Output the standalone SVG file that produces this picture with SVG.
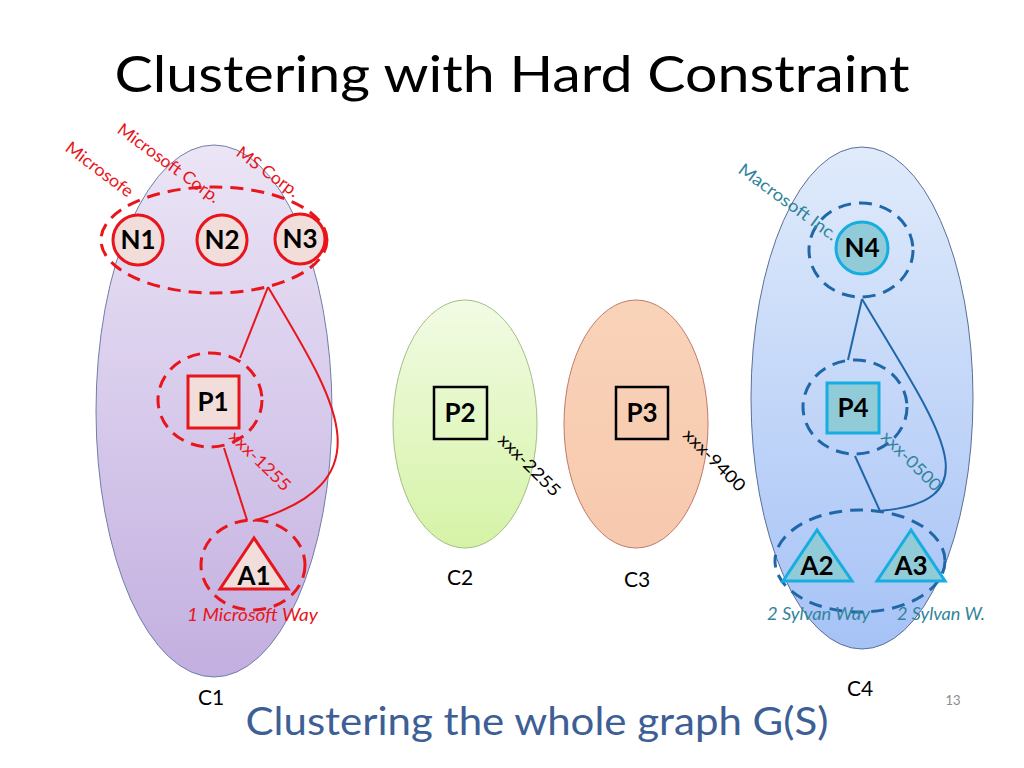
<svg xmlns="http://www.w3.org/2000/svg" width="1024" height="768" viewBox="0 0 1024 768">
<defs>
<linearGradient id="g1" x1="0" y1="0" x2="0" y2="1"><stop offset="0" stop-color="#ebe5f6"/><stop offset="1" stop-color="#c3afe0"/></linearGradient>
<linearGradient id="g2" x1="0" y1="0" x2="0" y2="1"><stop offset="0" stop-color="#f2fbe4"/><stop offset="1" stop-color="#d5f3a6"/></linearGradient>
<linearGradient id="g3" x1="0" y1="0" x2="0" y2="1"><stop offset="0" stop-color="#f9d3b8"/><stop offset="1" stop-color="#f7c9ae"/></linearGradient>
<linearGradient id="g4" x1="0" y1="0" x2="0" y2="1"><stop offset="0" stop-color="#e0ebfb"/><stop offset="1" stop-color="#a6c2f6"/></linearGradient>
<style>
text{font-family:Lato,"Open Sans","Liberation Sans",sans-serif}
.lbl{font-size:26px;font-weight:bold;fill:#000;text-anchor:middle}
.cl{font-size:21px;fill:#000;text-anchor:middle}
.rdash{fill:none;stroke:#e8161c;stroke-width:3;stroke-dasharray:13 8}
.bdash{fill:none;stroke:#1f67a8;stroke-width:3;stroke-dasharray:13 8}
.rnode{fill:#f1ddd9;stroke:#e8161c;stroke-width:3}
.bnode{fill:#92cbd8;stroke:#16aee0;stroke-width:3}
.pnode{fill:none;stroke:#000;stroke-width:2.5}
.rtxt{fill:#e8161c;font-size:17px}
.ttxt{fill:#31849b;font-size:17px}
.ktxt{fill:#000;font-size:17px}
</style>
</defs>
<rect width="1024" height="768" fill="#fff"/>
<text x="512" y="92" text-anchor="middle" font-size="50" textLength="795" lengthAdjust="spacingAndGlyphs" fill="#000">Clustering with Hard Constraint</text>

<g id="C1">
<ellipse cx="214" cy="411" rx="118" ry="266" fill="url(#g1)" stroke="#6f7fa8" stroke-width="1"/>
<text class="cl" x="211" y="705">C1</text>
</g>
<g id="C2">
<ellipse cx="465" cy="424" rx="72" ry="124" fill="url(#g2)" stroke="#a3be86" stroke-width="1"/>
<text class="cl" x="460" y="585">C2</text>
</g>
<g id="C3">
<ellipse cx="636" cy="424" rx="72" ry="124" fill="url(#g3)" stroke="#c07a6c" stroke-width="1"/>
<text class="cl" x="637" y="587">C3</text>
</g>
<g id="C4">
<ellipse cx="862" cy="398" rx="111" ry="251" fill="url(#g4)" stroke="#5b6f96" stroke-width="1"/>
<text class="cl" x="860" y="696">C4</text>
</g>

<g id="connectors" fill="none" stroke-width="2">
<line x1="268" y1="287" x2="240" y2="358" stroke="#e8161c"/>
<path d="M268,287 C335,400 390,480 253,521" stroke="#e8161c"/>
<line x1="224" y1="448" x2="247" y2="520" stroke="#e8161c"/>
<line x1="862" y1="299" x2="848" y2="360" stroke="#1f67a8"/>
<path d="M862,299 C940,430 995,500 880,511" stroke="#1f67a8"/>
<line x1="855" y1="456" x2="880" y2="511" stroke="#1f67a8"/>
</g>

<g id="Ngroup">
<ellipse class="rdash" cx="214" cy="240" rx="113" ry="53"/>
<text class="rtxt" transform="translate(64,150) rotate(37)" textLength="80" lengthAdjust="spacingAndGlyphs">Microsofe</text>
<text class="rtxt" transform="translate(116,132) rotate(36)" textLength="122" lengthAdjust="spacingAndGlyphs">Microsoft Corp.</text>
<text class="rtxt" transform="translate(235,155) rotate(36)" textLength="73" lengthAdjust="spacingAndGlyphs">MS Corp.</text>
</g>
<g id="N1"><circle class="rnode" cx="138" cy="240" r="25"/><text class="lbl" x="138" y="249">N1</text></g>
<g id="N2"><circle class="rnode" cx="222" cy="240" r="25"/><text class="lbl" x="222" y="249">N2</text></g>
<g id="N3"><circle class="rnode" cx="300" cy="239" r="25"/><text class="lbl" x="300" y="248">N3</text></g>

<g id="P1">
<ellipse class="rdash" cx="210" cy="400" rx="52" ry="47"/>
<rect class="rnode" x="188" y="376" width="51" height="52"/>
<text class="lbl" x="213" y="411">P1</text>
<text class="rtxt" transform="translate(228,438) rotate(44)" textLength="78" lengthAdjust="spacingAndGlyphs">xxx-1255</text>
</g>
<g id="A1">
<ellipse class="rdash" cx="253" cy="565" rx="52" ry="45"/>
<polygon class="rnode" points="254,538 220,589 288,589"/>
<text class="lbl" x="254" y="585">A1</text>
<text class="rtxt" x="187" y="621" font-style="italic" textLength="131" lengthAdjust="spacingAndGlyphs">1 Microsoft Way</text>
</g>

<g id="P2">
<rect class="pnode" x="434" y="387" width="53" height="52"/>
<text class="lbl" x="460" y="422">P2</text>
<text class="ktxt" transform="translate(497,441) rotate(45)" textLength="80" lengthAdjust="spacingAndGlyphs">xxx-2255</text>
</g>
<g id="P3">
<rect class="pnode" x="616" y="387" width="52" height="52"/>
<text class="lbl" x="642" y="422">P3</text>
<text class="ktxt" transform="translate(682,436) rotate(45)" textLength="80" lengthAdjust="spacingAndGlyphs">xxx-9400</text>
</g>

<g id="N4">
<ellipse class="bdash" cx="861" cy="250" rx="52" ry="47"/>
<circle class="bnode" cx="862" cy="248" r="26"/>
<text class="lbl" x="862" y="257">N4</text>
<text class="ttxt" transform="translate(737,172) rotate(36)" textLength="118" lengthAdjust="spacingAndGlyphs">Macrosoft Inc.</text>
</g>
<g id="P4">
<ellipse class="bdash" cx="855" cy="407" rx="52" ry="47"/>
<rect class="bnode" x="827" y="383" width="52" height="50"/>
<text class="lbl" x="853" y="417">P4</text>
<text class="ttxt" transform="translate(880,438) rotate(45)" textLength="77" lengthAdjust="spacingAndGlyphs">xxx-0500</text>
</g>
<g id="Agroup">
<ellipse class="bdash" cx="860" cy="561" rx="85" ry="51"/>
<text class="ttxt" x="767" y="620" font-style="italic" textLength="103" lengthAdjust="spacingAndGlyphs">2 Sylvan Way</text>
<text class="ttxt" x="897" y="620" font-style="italic" textLength="88" lengthAdjust="spacingAndGlyphs">2 Sylvan W.</text>
</g>
<g id="A2"><polygon class="bnode" points="817,530 783,581 852,581"/><text class="lbl" x="817" y="575">A2</text></g>
<g id="A3"><polygon class="bnode" points="911,530 877,581 945,581"/><text class="lbl" x="911" y="575">A3</text></g>

<text x="537" y="735" text-anchor="middle" font-size="38" fill="#3d5f95" textLength="583" lengthAdjust="spacingAndGlyphs">Clustering the whole graph G(S)</text>
<text x="953" y="705" text-anchor="middle" font-size="13" fill="#8c8c8c">13</text>
</svg>
